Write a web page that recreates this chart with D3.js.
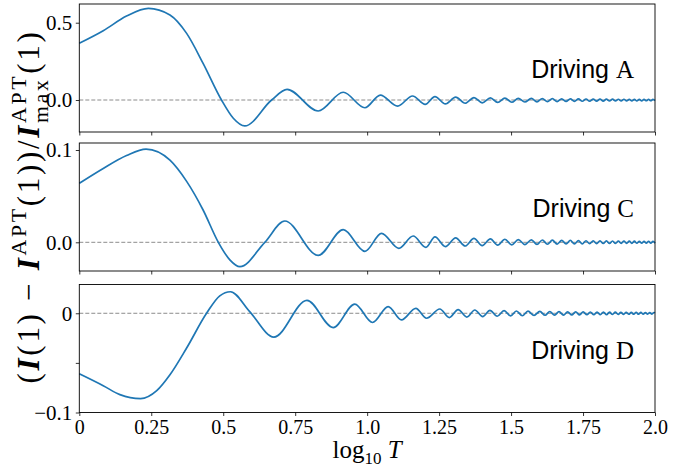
<!DOCTYPE html>
<html>
<head>
<meta charset="utf-8">
<script src="https://cdn.jsdelivr.net/npm/d3@7/dist/d3.min.js"></script>
<style>
  body { margin: 0; background: #fff; }
  svg { display: block; }
  text { white-space: pre; }
</style>
</head>
<body>
<svg id="chart" width="693" height="470"></svg>
<script>
// ---- shared x axis: log10 T ----
const xTicks = [0, 0.25, 0.5, 0.75, 1.0, 1.25, 1.5, 1.75, 2.0];
const xTickLabels = ["0", "0.25", "0.5", "0.75", "1.0", "1.25", "1.5", "1.75", "2.0"];

// ---- Driving A: T and relative deviation (initial hump, then extrema of the ringing) ----
const drivingA_T = [1.0, 1.211, 1.459, 1.738, 2.065, 2.36, 2.692, 3.119, 3.428, 3.758, 4.656, 5.27,
  6.76, 8.26, 9.82, 11.11, 12.76, 14.38, 15.91, 17.2, 18.7, 20.3, 21.9, 23.5, 25.1, 26.8, 28.4,
  30.1, 31.8, 33.5, 35.3, 37.2, 38.9, 40.6, 42.3, 44.0, 45.7, 47.4, 49.1, 50.8, 52.5, 54.2, 55.9,
  57.6, 59.3, 61.0, 62.7, 64.4, 66.1, 67.8, 69.5, 71.2, 72.9, 74.6, 76.3, 78.0, 79.7, 81.4, 83.1,
  84.8, 86.5, 88.2, 89.9, 91.6, 93.3, 95.0, 96.7, 98.4, 100];
const drivingA_val = [0.367, 0.448, 0.543, 0.593, 0.550, 0.431, 0.237, 0.0, -0.118, -0.168, 0.0, 0.069,
  -0.071, 0.050, -0.050, 0.032, -0.039, 0.026, -0.028, 0.022, -0.025, 0.018, -0.021, 0.016, -0.018, 0.014, -0.016,
  0.012, -0.0145, 0.011, -0.013, 0.010, -0.012, 0.009, -0.011, 0.0084, -0.010, 0.0078, -0.0094, 0.0073, -0.0088, 0.0068, -0.0082,
  0.0064, -0.0078, 0.0061, -0.0073, 0.0057, -0.0070, 0.0055, -0.0066, 0.0052, -0.0063, 0.0050, -0.0060, 0.0047, -0.0058, 0.0045, -0.0055,
  0.0044, -0.0053, 0.0042, -0.0051, 0.0040, -0.0049, 0.0039, -0.0048, 0.0038, -0.0046];

// ---- Driving C ----
const drivingC_T = [1.0, 1.211, 1.459, 1.706, 2.065, 2.36, 2.692, 3.041, 3.334, 3.614, 4.41, 5.176,
  6.76, 8.26, 9.82, 11.22, 12.88, 14.45, 16.0, 17.2, 18.7, 20.3, 21.9, 23.5, 25.1, 26.8, 28.4,
  30.1, 31.8, 33.5, 35.3, 37.2, 38.9, 40.6, 42.3, 44.0, 45.7, 47.4, 49.1, 50.8, 52.5, 54.2, 55.9,
  57.6, 59.3, 61.0, 62.7, 64.4, 66.1, 67.8, 69.5, 71.2, 72.9, 74.6, 76.3, 78.0, 79.7, 81.4, 83.1,
  84.8, 86.5, 88.2, 89.9, 91.6, 93.3, 95.0, 96.7, 98.4, 100];
const drivingC_val = [0.0639, 0.080, 0.094, 0.101, 0.089, 0.066, 0.035, 0.0, -0.019, -0.0264, 0.0, 0.0231,
  -0.0142, 0.0137, -0.0098, 0.0097, -0.0065, 0.0068, -0.0054, 0.0058, -0.0047, 0.0049, -0.0040, 0.0043, -0.0035, 0.0037, -0.0031,
  0.0033, -0.0028, 0.0030, -0.0025, 0.0027, -0.0023, 0.0025, -0.0021, 0.0023, -0.0019, 0.0021, -0.0018, 0.0020, -0.0017, 0.0018, -0.0016,
  0.0017, -0.0015, 0.0016, -0.0014, 0.0016, -0.0013, 0.0015, -0.0013, 0.0014, -0.0012, 0.0013, -0.0012, 0.0013, -0.0011, 0.0012, -0.0011,
  0.0012, -0.0010, 0.0011, -0.0010, 0.0011, -0.0009, 0.0011, -0.0009, 0.0010, -0.0009];

// ---- Driving D ----
const drivingD_T = [1.0, 1.211, 1.384, 1.633, 1.858, 2.065, 2.36, 2.767, 3.076, 3.35, 3.908, 4.742,
  6.18, 7.62, 9.06, 10.44, 11.83, 13.16, 14.76, 16.08, 17.88, 19.3, 20.7, 22.2, 23.66, 25.2, 26.7,
  28.3, 29.9, 31.5, 33.0, 34.6, 36.2, 38.0, 39.8, 41.5, 43.1, 44.8, 46.4, 48.1, 49.7, 51.4, 53.0,
  54.7, 56.3, 58.0, 59.6, 61.3, 62.9, 64.6, 66.2, 67.9, 69.5, 71.2, 72.8, 74.5, 76.1, 77.8, 79.4,
  81.1, 82.7, 84.4, 86.0, 87.7, 89.3, 91.0, 92.6, 94.3, 95.9, 97.6, 99.2, 100];
const drivingD_val = [-0.061, -0.073, -0.082, -0.086, -0.078, -0.062, -0.035, 0.0, 0.0176, 0.0217, 0.0016, -0.024,
  0.013, -0.0144, 0.0092, -0.0093, 0.0067, -0.0067, 0.0050, -0.0050, 0.0043, -0.0044, 0.0037, -0.0038, 0.0033, -0.0034, 0.0029,
  -0.0030, 0.0026, -0.0027, 0.0023, -0.0025, 0.0021, -0.0022, 0.0019, -0.0020, 0.0018, -0.0019, 0.0017, -0.0018, 0.0015, -0.0017, 0.0015,
  -0.0016, 0.0014, -0.0015, 0.0013, -0.0014, 0.0012, -0.0013, 0.0012, -0.0013, 0.0011, -0.0012, 0.0011, -0.0011, 0.0010, -0.0011, 0.0010,
  -0.0010, 0.0009, -0.0010, 0.0009, -0.0010, 0.0009, -0.0009, 0.0008, -0.0009, 0.0008, -0.0009, 0.0008, 0.0005];

// ---- per-panel y ticks ----
const yTicksA = [0, 0.5];         const yTickLabelsA = ["0.0", "0.5"];
const yTicksC = [0, 0.1];         const yTickLabelsC = ["0.0", "0.1"];
const yTicksD = [-0.1, -0.05, 0]; const yTickLabelsD = ["\u22120.1", "", "0"];

const panelLetters = ["A", "C", "D"];

// ---- layout ----
const serif = "'Liberation Serif', 'DejaVu Serif', serif";
const sans = "'Liberation Sans', Arial, sans-serif";
const plotLeft = 79.3, plotRight = 655;
const panelH = 128;
const panels = [
  { letter: panelLetters[0], T: drivingA_T, v: drivingA_val, top: 4,     domain: [-0.207, 0.621],  ticks: yTicksA, labels: yTickLabelsA },
  { letter: panelLetters[1], T: drivingC_T, v: drivingC_val, top: 143,   domain: [-0.0311, 0.1076], ticks: yTicksC, labels: yTickLabelsC },
  { letter: panelLetters[2], T: drivingD_T, v: drivingD_val, top: 284.5, domain: [-0.1, 0.029],     ticks: yTicksD, labels: yTickLabelsD }
];

const svg = d3.select("#chart");
const x = d3.scaleLinear().domain([0, 2]).range([plotLeft, plotRight]);

panels.forEach((p, i) => {
  const y = d3.scaleLinear().domain(p.domain).range([p.top + panelH, p.top]);
  const g = svg.append("g");

  // dashed zero reference
  g.append("line")
    .attr("x1", x(0)).attr("x2", x(2))
    .attr("y1", y(0)).attr("y2", y(0))
    .attr("stroke", "#8c8c8c").attr("stroke-width", 1)
    .attr("stroke-dasharray", "4,2");

  // the curve
  const pts = p.T.map((t, k) => [Math.log10(t), p.v[k]]);
  const line = d3.line().x(d => x(d[0])).y(d => y(d[1])).curve(d3.curveMonotoneX);
  g.append("path").datum(pts)
    .attr("d", line)
    .attr("fill", "none")
    .attr("stroke", "#1f77b4")
    .attr("stroke-width", 1.7)
    .attr("stroke-linejoin", "round");

  // x axis (labels only on the bottom panel)
  const isBottom = i === panels.length - 1;
  const xAxis = d3.axisBottom(x).tickValues(xTicks).tickSizeOuter(0).tickSize(3.5).tickPadding(4)
    .tickFormat((d, k) => isBottom ? xTickLabels[k] : "");
  const gx = g.append("g").attr("transform", `translate(0,${p.top + panelH})`).call(xAxis);
  gx.select(".domain").remove();
  gx.selectAll("line").attr("stroke", "#000").attr("stroke-width", 0.8);
  gx.selectAll("text").attr("font-family", serif).attr("font-size", 20).attr("fill", "#000");

  // y axis
  const yAxis = d3.axisLeft(y).tickValues(p.ticks).tickSizeOuter(0).tickSize(3.5).tickPadding(3.5)
    .tickFormat((d, k) => p.labels[k]);
  const gy = g.append("g").attr("transform", `translate(${plotLeft},0)`).call(yAxis);
  gy.select(".domain").remove();
  gy.selectAll("line").attr("stroke", "#000").attr("stroke-width", 0.8);
  gy.selectAll("text").attr("font-family", serif).attr("font-size", 21).attr("fill", "#000");

  // frame
  g.append("rect")
    .attr("x", plotLeft).attr("y", p.top)
    .attr("width", plotRight - plotLeft).attr("height", panelH)
    .attr("fill", "none").attr("stroke", "#000").attr("stroke-width", 0.9);

  // panel label
  const lab = g.append("text")
    .attr("x", 634).attr("y", p.top + 74)
    .attr("text-anchor", "end").attr("fill", "#000").attr("font-size", 25);
  lab.append("tspan").attr("font-family", sans).text("Driving ");
  lab.append("tspan").attr("font-family", serif).text(p.letter);
});

// x label: log10 T
const xl = svg.append("text")
  .attr("x", (plotLeft + plotRight) / 2).attr("y", 458)
  .attr("text-anchor", "middle").attr("font-family", serif).attr("font-size", 25).attr("fill", "#000");
xl.append("tspan").text("log");
xl.append("tspan").attr("font-size", 17).attr("dy", 6).text("10");
xl.append("tspan").attr("dy", -6).text(" ");
xl.append("tspan").attr("font-style", "italic").text("T");

// y label: (I(1) − I^APT(1)) / I^APT_max(1)
const yLabelParts = [
  { t: "(", k: "n" }, { t: "I", k: "bi" }, { t: "(1) \u2212 ", k: "n" }, { t: "I", k: "bi" },
  { t: "APT", k: "sup" }, { t: "(1))/", k: "n" }, { t: "I", k: "bi" },
  { t: "APT", k: "sup", sub: "max" }, { t: "(1)", k: "n" }
];
const yLabelG = svg.append("g");
function buildYLabel(f, ls) {
  yLabelG.selectAll("*").remove();
  const t = yLabelG.append("text").attr("font-family", serif).attr("font-size", f)
    .attr("letter-spacing", ls).attr("fill", "#000").attr("x", 0).attr("y", 0);
  let cur = 0, pendingDx = 0;
  yLabelParts.forEach(p => {
    if (p.k === "sup") {
      const target = -0.42 * f;
      const s = t.append("tspan").attr("font-size", 0.7 * f).attr("dy", target - cur).attr("dx", pendingDx).text(p.t);
      pendingDx = 0; cur = target;
      if (p.sub) {
        const w1 = s.node().getComputedTextLength();
        const target2 = 0.3 * f;
        const b = t.append("tspan").attr("font-size", 0.7 * f).attr("dy", target2 - cur).attr("dx", -w1).text(p.sub);
        cur = target2;
        const w2 = b.node().getComputedTextLength();
        pendingDx = Math.max(0, w1 - w2);
      }
    } else {
      const s = t.append("tspan").attr("dy", -cur).attr("dx", pendingDx).text(p.t);
      if (p.k === "bi") s.attr("font-weight", "bold").attr("font-style", "italic");
      pendingDx = 0; cur = 0;
    }
  });
  return t;
}
const yFont = 31, targetLen = 354;
let yt = buildYLabel(yFont, 0);
const nChars = yLabelParts.reduce((s, p) => s + p.t.length, 0);
const spacing = Math.max(0, (targetLen - yt.node().getBBox().width) / nChars);
yt = buildYLabel(yFont, spacing);
const bb = yt.node().getBBox();
// rotate so the label reads upward, centred on the panel stack
const cy = 206.5, baseX = 39;
yLabelG.attr("transform", `translate(${baseX},${cy + bb.width / 2}) rotate(-90) translate(${-bb.x},0)`);
</script>
</body>
</html>
